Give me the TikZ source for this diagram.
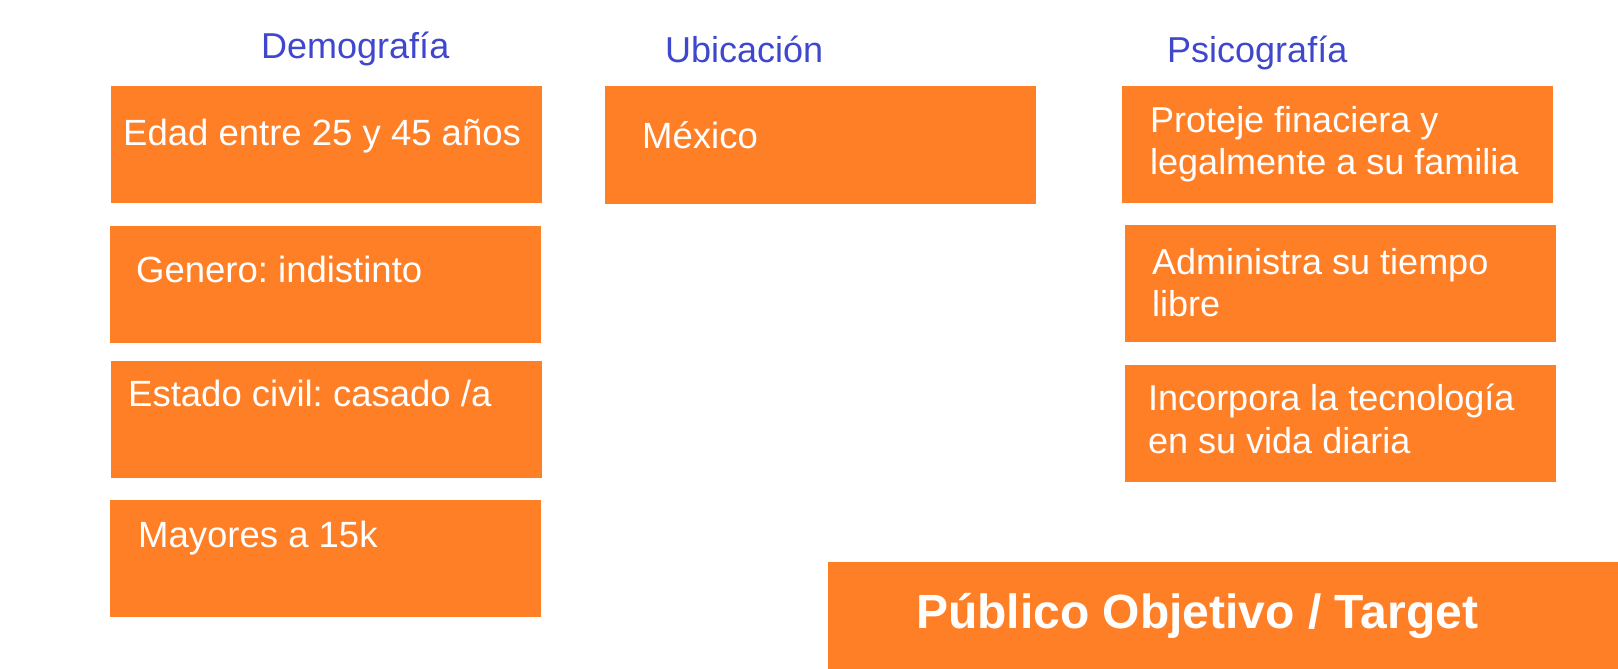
\documentclass[tikz,border=0pt]{standalone}
\usepackage{fontspec}
\setmainfont{Liberation Sans}
\usepackage{xcolor}
\usepackage{tikz}
\frenchspacing
\definecolor{boxorange}{HTML}{FF7F27}
\definecolor{titleblue}{HTML}{3F48CC}
\tikzset{
  card/.style={rectangle, fill=boxorange, minimum width=431pt, minimum height=117pt, inner sep=0pt},
  cardtext/.style={anchor=base west, inner sep=0pt, text=white, align=left, font=\fontsize{36.5}{42}\selectfont},
  heading/.style={anchor=base west, inner sep=0pt, text=titleblue, font=\fontsize{36}{42}\selectfont}
}

\begin{document}
\begin{tikzpicture}[x=1pt, y=-1pt]
  \useasboundingbox (0,0) rectangle (1618,669);
  \node[heading] (Demo-title) at (261,59) {Demografía};  % Titles
  \node[heading] (Ubic-title) at (665,63) {Ubicación};
  \node[heading] (Psico-title) at (1167,63) {Psicografía};
  \node[card] (Demo-1) at (326,144.5) {};  % Demografia
  \node[card] (Demo-2) at (325.5,284.5) {};
  \node[card] (Demo-3) at (326.5,419.5) {};
  \node[card] (Demo-4) at (325.5,558.5) {};
  \node[cardtext] (Demo-1-text) at (123,145) {Edad entre 25 y 45 años};
  \node[cardtext] (Demo-2-text) at (136,282) {Genero: indistinto};
  \node[cardtext] (Demo-3-text) at (128,406) {Estado civil: casado /a};
  \node[cardtext] (Demo-4-text) at (138,547) {Mayores a 15k};
  \node[card] (Ubic-1) at (820.5,145) {};  % Ubicacion
  \node[cardtext] (Ubic-1-text) at (642,148) {México};
  \node[card] (Psico-1) at (1337.5,144.5) {};  % Psicografia
  \node[card] (Psico-2) at (1340.5,283.5) {};
  \node[card] (Psico-3) at (1340.5,423.5) {};
  \node[cardtext, font=\fontsize{36}{42}\selectfont] (Psico-1-text) at (1150,174) {Proteje finaciera y\\legalmente a su familia};  % base = last line
  \node[cardtext, font=\fontsize{36}{42}\selectfont] (Psico-2-text) at (1152,316) {Administra su tiempo\\libre};
  \node[cardtext, font=\fontsize{36}{43}\selectfont] (Psico-3-text) at (1148,453) {Incorpora la tecnología\\en su vida diaria};
  \node[card, minimum width=796pt, minimum height=109pt] (Target) at (1226,616.5) {};  % Target
  \node[cardtext, font=\fontsize{48}{56}\selectfont\bfseries] (Target-text) at (916,628) {Público Objetivo / Target};
\end{tikzpicture}
\end{document}
